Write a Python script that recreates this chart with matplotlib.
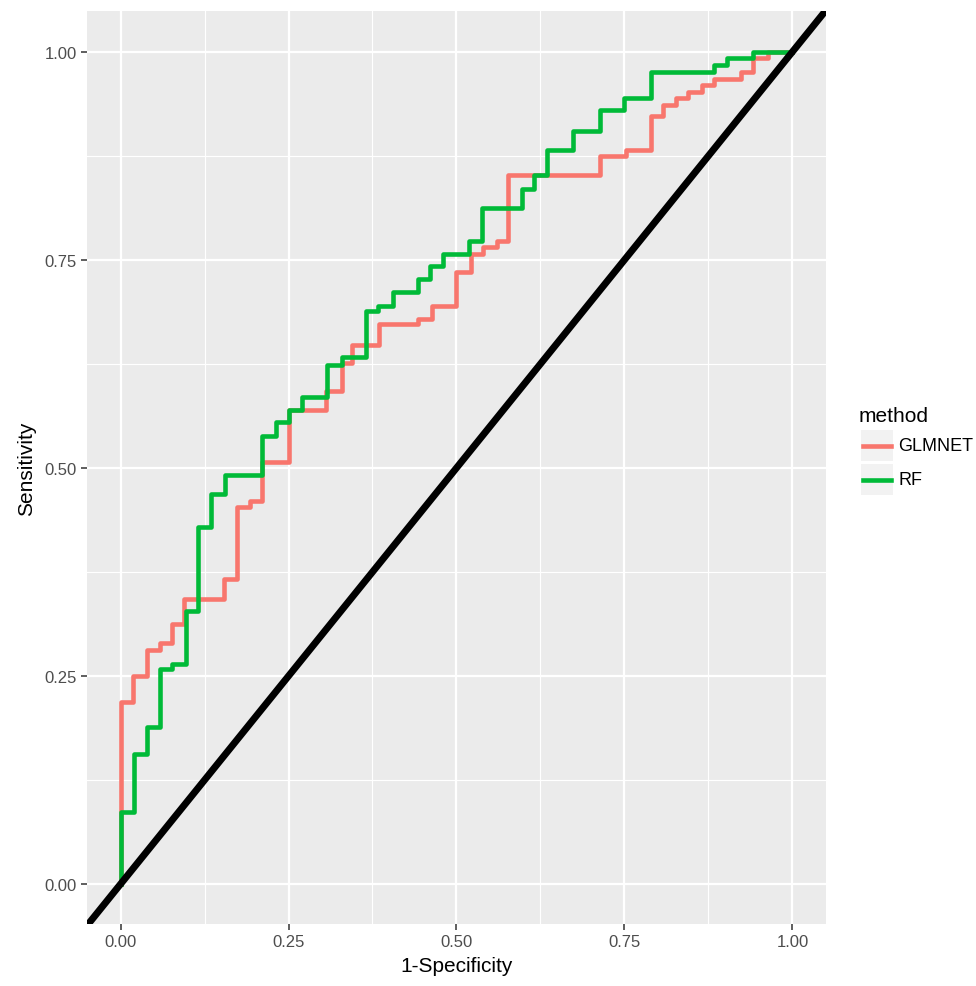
import matplotlib
matplotlib.use("Agg")
import matplotlib.pyplot as plt
from matplotlib.lines import Line2D
from matplotlib.patches import Rectangle

plt.rcParams['font.family'] = ['Liberation Sans', 'DejaVu Sans']

# ROC corner points (1-specificity, sensitivity)
glmnet_fpr = [0.0, 0.0, 0.018, 0.039, 0.058, 0.077, 0.095, 0.154, 0.173, 0.192,
              0.211, 0.25, 0.306, 0.329, 0.345, 0.385, 0.443, 0.463, 0.5, 0.521,
              0.539, 0.56, 0.576, 0.713, 0.752, 0.79, 0.807, 0.827, 0.845, 0.865,
              0.884, 0.924, 0.942, 0.963, 1.0]
glmnet_tpr = [0.0, 0.219, 0.25, 0.281, 0.29, 0.3125, 0.343, 0.367, 0.453, 0.46,
              0.507, 0.57, 0.593, 0.626, 0.648, 0.673, 0.679, 0.695, 0.735, 0.757,
              0.766, 0.773, 0.852, 0.875, 0.882, 0.923, 0.936, 0.945, 0.952, 0.96,
              0.967, 0.976, 0.992, 1.0, 1.0]

rf_fpr = [0.0, 0.0, 0.02, 0.04, 0.058, 0.077, 0.097, 0.115, 0.135, 0.155,
          0.211, 0.232, 0.25, 0.27, 0.308, 0.329, 0.366, 0.383, 0.405, 0.442,
          0.461, 0.48, 0.519, 0.538, 0.597, 0.616, 0.635, 0.673, 0.713, 0.75,
          0.789, 0.884, 0.903, 0.942, 1.0]
rf_tpr = [0.0, 0.087, 0.156, 0.189, 0.258, 0.264, 0.328, 0.429, 0.469, 0.492,
          0.538, 0.555, 0.57, 0.585, 0.624, 0.633, 0.688, 0.695, 0.712, 0.727,
          0.743, 0.757, 0.773, 0.8125, 0.835, 0.852, 0.882, 0.905, 0.93, 0.945,
          0.976, 0.984, 0.992, 1.0, 1.0]

methods = ["GLMNET", "RF"]
ticks = [0.0, 0.25, 0.5, 0.75, 1.0]
tick_labels = ["0.00", "0.25", "0.50", "0.75", "1.00"]
minor_ticks = [0.125, 0.375, 0.625, 0.875]

RED = "#F8766D"
GREEN = "#00BA38"
W, H = 976, 987

fig = plt.figure(figsize=(W / 100, H / 100), dpi=100)
ax = fig.add_axes([0.0891, 0.0628, 0.7572, 0.925])
ax.set_facecolor("#EBEBEB")

ax.set_xlim(-0.05, 1.05)
ax.set_ylim(-0.048, 1.049)

# grid
for t in minor_ticks:
    ax.axvline(t, color="white", lw=0.8, zorder=0.5)
    ax.axhline(t, color="white", lw=0.8, zorder=0.5)
for t in ticks:
    ax.axvline(t, color="white", lw=1.6, zorder=0.6)
    ax.axhline(t, color="white", lw=1.6, zorder=0.6)

ax.step(glmnet_fpr, glmnet_tpr, where="post", color=RED, lw=3.3, zorder=2)
ax.step(rf_fpr, rf_tpr, where="post", color=GREEN, lw=3.3, zorder=3)
ax.axline((0, 0), slope=1, color="black", lw=5, zorder=4)

for s in ax.spines.values():
    s.set_visible(False)

ax.set_xticks(ticks)
ax.set_xticklabels(tick_labels)
ax.set_yticks(ticks)
ax.set_yticklabels(tick_labels)
ax.tick_params(colors="#333333", labelcolor="#4D4D4D", labelsize=12,
               length=4, width=1.1)

ax.set_xlabel("1-Specificity", fontsize=15, labelpad=5)
ax.set_ylabel("Sensitivity", fontsize=15, labelpad=6)

# legend drawn by hand, ggplot style (positions in figure pixels)
def fx(px):
    return px / W

def fy(py):
    return 1 - py / H

fig.text(fx(859), fy(416), "method", fontsize=15, va="center", ha="left")
for i, (name, c) in enumerate(zip(methods, [RED, GREEN])):
    top = 431 + i * 34
    fig.patches.append(Rectangle((fx(861), fy(top + 31)), 32 / W, 31 / H,
                                 transform=fig.transFigure,
                                 facecolor="#F2F2F2", edgecolor="none"))
    yc = top + 15.5
    fig.lines.append(Line2D([fx(863), fx(891)], [fy(yc), fy(yc)],
                            transform=fig.transFigure, color=c, lw=3.3))
    fig.text(fx(898), fy(yc), name, fontsize=13, va="center", ha="left")

fig.savefig("out.png", dpi=100)
